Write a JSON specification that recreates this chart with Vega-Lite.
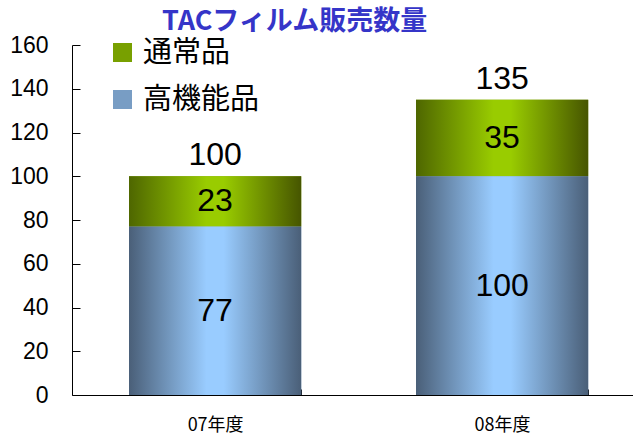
{
  "$schema": "https://vega.github.io/schema/vega-lite/v6.json",
  "width": 561,
  "height": 350,
  "autosize": {"type": "none"},
  "padding": {"left": 72, "top": 45, "right": 0, "bottom": 42},
  "background": "white",
  "title": {
    "text": "TACフィルム販売数量",
    "anchor": "start",
    "frame": "group",
    "dx": 90,
    "offset": -23,
    "baseline": "alphabetic",
    "font": "Noto Sans CJK JP",
    "fontSize": 27,
    "fontWeight": "bold",
    "color": "#3535c8"
  },
  "data": {
    "values": [
      {"year": "07年度", "type": "高機能品", "v": 77},
      {"year": "07年度", "type": "通常品", "v": 23},
      {"year": "08年度", "type": "高機能品", "v": 100},
      {"year": "08年度", "type": "通常品", "v": 35}
    ]
  },
  "transform": [
    {"stack": "v", "groupby": ["year"], "sort": [{"field": "type", "order": "descending"}], "as": ["y0", "y1"]}
  ],
  "encoding": {
    "x": {
      "field": "year",
      "type": "nominal",
      "title": null,
      "scale": {"paddingInner": 0.4, "paddingOuter": 0.1774, "align": 0.56},
      "axis": {
        "labelAngle": 0,
        "tickBand": "extent",
        "tickSize": -6,
        "tickColor": "black",
        "domainColor": "black",
        "domainWidth": 1,
        "labelFont": "Noto Sans CJK JP",
        "labelFontSize": 18,
        "labelColor": "black",
        "labelBaseline": "middle",
        "labelPadding": 36,
        "grid": false
      }
    }
  },
  "layer": [
    {
      "mark": {"type": "bar"},
      "encoding": {
        "y": {
          "field": "y1",
          "type": "quantitative",
          "title": null,
          "scale": {"domain": [0, 160], "nice": false},
          "axis": {
            "values": [0, 20, 40, 60, 80, 100, 120, 140, 160],
            "tickSize": -8,
            "tickColor": "black",
            "domainColor": "black",
            "labelFont": "Liberation Sans",
            "labelFontSize": 23,
            "labelColor": "black",
            "labelPadding": 32,
            "grid": false
          }
        },
        "y2": {"field": "y0"},
        "color": {
          "field": "type",
          "type": "nominal",
          "scale": {"domain": ["通常品", "高機能品"], "range": ["#78a000", "#789dc4"]},
          "legend": {
            "title": null,
            "orient": "none",
            "legendX": 36,
            "legendY": -7,
            "padding": 0,
            "symbolType": "square",
            "symbolSize": 361,
            "symbolStrokeWidth": 0,
            "labelFont": "Noto Sans CJK JP",
            "labelFontSize": 29,
            "labelColor": "black",
            "labelOffset": 6,
            "rowPadding": 17
          }
        }
      }
    },
    {
      "transform": [{"filter": "datum.type === '通常品'"}],
      "mark": {
        "type": "bar",
        "color": {"gradient": "linear", "x1": 0, "y1": 0, "x2": 1, "y2": 0, "stops": [
          {"offset": 0, "color": "#4e6600"},
          {"offset": 0.45, "color": "#99cc00"},
          {"offset": 0.55, "color": "#99cc00"},
          {"offset": 1, "color": "#465500"}
        ]}
      },
      "encoding": {
        "y": {"field": "y1", "type": "quantitative", "title": null, "scale": {"domain": [0, 160], "nice": false}},
        "y2": {"field": "y0"}
      }
    },
    {
      "transform": [{"filter": "datum.type === '高機能品'"}],
      "mark": {
        "type": "bar",
        "color": {"gradient": "linear", "x1": 0, "y1": 0, "x2": 1, "y2": 0, "stops": [
          {"offset": 0, "color": "#4a5f78"},
          {"offset": 0.45, "color": "#99ccff"},
          {"offset": 0.55, "color": "#99ccff"},
          {"offset": 1, "color": "#4a5f78"}
        ]}
      },
      "encoding": {
        "y": {"field": "y1", "type": "quantitative", "title": null, "scale": {"domain": [0, 160], "nice": false}},
        "y2": {"field": "y0"}
      }
    },
    {
      "transform": [
        {"fold": ["y0", "y1"], "as": ["k", "pos"]}
      ],
      "mark": {"type": "text", "font": "Liberation Sans", "fontSize": 32, "baseline": "middle", "color": "black"},
      "encoding": {
        "y": {"aggregate": "mean", "field": "pos", "type": "quantitative", "title": null, "scale": {"domain": [0, 160], "nice": false}},
        "text": {"aggregate": "max", "field": "v", "type": "quantitative"},
        "detail": {"field": "type", "type": "nominal"}
      }
    },
    {
      "mark": {"type": "text", "font": "Liberation Sans", "fontSize": 32, "baseline": "alphabetic", "dy": -11, "color": "black"},
      "encoding": {
        "y": {"aggregate": "sum", "field": "v", "type": "quantitative", "title": null, "scale": {"domain": [0, 160], "nice": false}},
        "text": {"aggregate": "sum", "field": "v", "type": "quantitative"}
      }
    }
  ],
  "config": {"view": {"stroke": null}}
}
